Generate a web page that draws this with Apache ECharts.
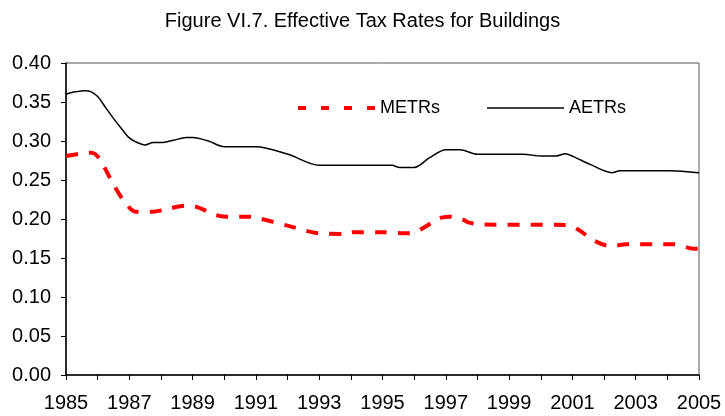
<!DOCTYPE html>
<html>
<head>
<meta charset="utf-8">
<script src="https://cdn.jsdelivr.net/npm/echarts@6/dist/echarts.min.js"></script>
<style>
html,body{margin:0;padding:0;background:#fff;}
#main{width:725px;height:416px;}
</style>
</head>
<body>
<div id="main"></div>
<script>
// AETRs (solid black)
var aetrYears = [1985.0,1985.3,1985.6,1985.8,1986.0,1986.25,1986.5,1986.75,1987.0,1987.25,1987.5,1987.75,1988.0,1988.4,1988.8,1989.0,1989.5,1990.0,1990.5,1991.0,1992.0,1993.0,1994.0,1995.3,1995.55,1996.0,1996.5,1997.0,1997.45,1998.0,1999.45,2000.0,2000.5,2000.77,2001.03,2001.56,2002.25,2002.5,2004.1,2005.0];
var aetrValues = [0.360,0.363,0.3645,0.363,0.357,0.343,0.329,0.316,0.304,0.298,0.295,0.298,0.298,0.301,0.3045,0.3045,0.300,0.2927,0.2927,0.2927,0.2833,0.2688,0.2688,0.2688,0.266,0.266,0.279,0.2889,0.2889,0.283,0.283,0.2808,0.2808,0.2838,0.280,0.270,0.2594,0.262,0.262,0.2594];
// METRs (red dashed)
var metrYears = [1985.0,1985.47,1985.8,1986.05,1986.48,1986.85,1987.2,1987.74,1988.06,1988.8,1989.1,1989.75,1990.06,1990.8,1991.1,1992.0,1993.0,1993.86,1994.07,1995.0,1995.86,1996.18,1996.8,1997.1,1997.5,1997.74,1998.2,2000.8,2001.2,2001.7,2002.2,2002.72,2004.2,2004.85,2005.0];
var metrValues = [0.2808,0.284,0.285,0.2778,0.2457,0.222,0.2094,0.2094,0.2115,0.217,0.2158,0.205,0.203,0.203,0.2009,0.1915,0.1816,0.1808,0.183,0.183,0.1816,0.186,0.2009,0.203,0.200,0.1953,0.193,0.1923,0.186,0.172,0.1654,0.1675,0.1675,0.162,0.162];

function pairs(xs, ys) {
    var out = [];
    for (var i = 0; i < xs.length; i++) out.push([xs[i], ys[i]]);
    return out;
}

var mychart = echarts.init(document.getElementById('main'));
var font = 'Liberation Sans, Arial, sans-serif';
var legendText = {fontFamily: font, fontSize: 18, color: '#000'};
var option = {
    animation: false,
    backgroundColor: '#fff',
    title: {
        text: 'Figure VI.7. Effective Tax Rates for Buildings',
        left: 'center',
        top: 6,
        textStyle: {fontFamily: font, fontSize: 20, fontWeight: 'normal', color: '#000'}
    },
    // two legends so each sample can keep its own thickness
    legend: [{
        left: 293, top: 94,
        itemWidth: 77, itemHeight: 4, itemGap: 7,
        textStyle: legendText,
        data: [{name: 'METRs', icon: 'path://M0,0h8v4h-8zM23,0h8v4h-8zM46,0h8v4h-8zM69,0h8v4h-8z'}]
    }, {
        left: 482, top: 94,
        itemWidth: 77, itemHeight: 1.5,
        textStyle: legendText,
        data: [{name: 'AETRs', icon: 'rect'}]
    }],
    grid: {
        left: 66, right: 26, top: 63, bottom: 41,
        show: true, borderColor: '#555', borderWidth: 1
    },
    xAxis: {
        type: 'value',
        min: 1985, max: 2005, interval: 1,
        axisLine: {lineStyle: {color: '#000', width: 1.5}},
        axisTick: {show: true, length: 5, lineStyle: {color: '#000'}},
        splitLine: {show: false},
        axisLabel: {
            margin: 18,
            fontFamily: font, fontSize: 20, color: '#000',
            formatter: function (v) { return (v - 1985) % 2 === 0 ? String(v) : ''; }
        }
    },
    yAxis: {
        type: 'value',
        min: 0, max: 0.4, interval: 0.05,
        axisLine: {show: true, lineStyle: {color: '#000', width: 1.5}},
        axisTick: {show: true, length: 5, lineStyle: {color: '#000'}},
        splitLine: {show: false},
        axisLabel: {
            margin: 15,
            fontFamily: font, fontSize: 20, color: '#000',
            formatter: function (v) { return v.toFixed(2); }
        }
    },
    series: [{
        name: 'METRs',
        type: 'line',
        data: pairs(metrYears, metrValues),
        smooth: 0.3,
        showSymbol: false,
        symbol: 'none',
        lineStyle: {color: '#ff0000', width: 4, type: [12, 11]},
        itemStyle: {color: '#ff0000'}
    }, {
        name: 'AETRs',
        type: 'line',
        data: pairs(aetrYears, aetrValues),
        smooth: 0.3,
        showSymbol: false,
        symbol: 'none',
        lineStyle: {color: '#000', width: 1.5},
        itemStyle: {color: '#000'}
    }]
};
mychart.setOption(option);
</script>
</body>
</html>
